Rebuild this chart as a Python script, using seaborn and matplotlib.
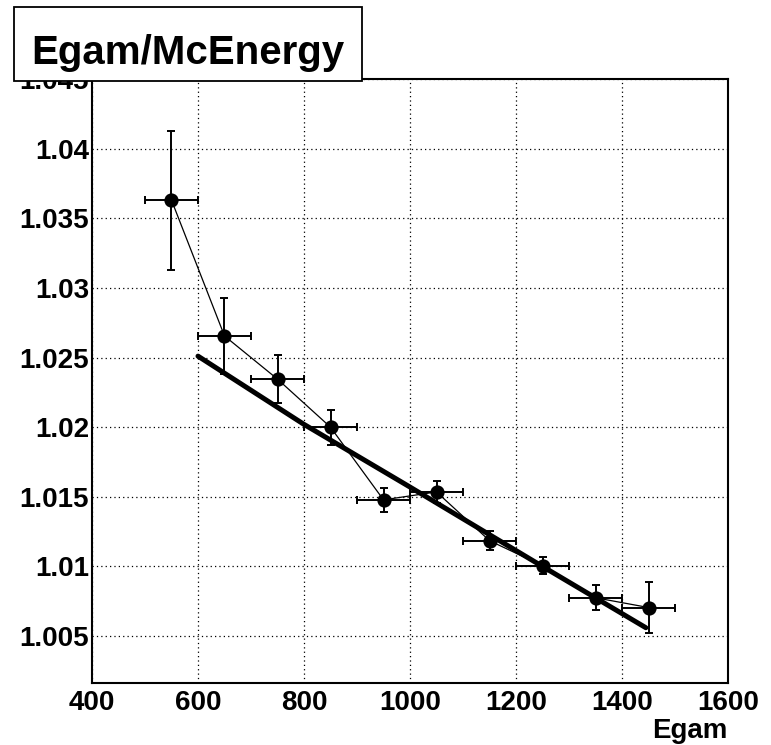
import matplotlib
matplotlib.use("Agg")
import matplotlib.pyplot as plt
from matplotlib.patches import Rectangle
from matplotlib.ticker import MultipleLocator, FixedLocator, FuncFormatter
import seaborn as sns
import pandas as pd

# ---- data ----
egam = [550, 650, 750, 850, 950, 1050, 1150, 1250, 1350, 1450]
egam_err = [50, 50, 50, 50, 50, 50, 50, 50, 50, 50]
ratio = [1.03630, 1.02655, 1.02345, 1.02000, 1.01478, 1.01535, 1.01185, 1.01005, 1.00775, 1.00705]
ratio_err = [0.0050, 0.0027, 0.0017, 0.00125, 0.00085, 0.0008, 0.0007, 0.0006, 0.0009, 0.0018]

fit_x = [600, 800, 1000, 1250, 1445]
fit_y = [1.0251, 1.0202, 1.0157, 1.0100, 1.0056]

title = "Egam/McEnergy"
xlabel = "Egam"
ytick_vals = [1.005, 1.01, 1.015, 1.02, 1.025, 1.03, 1.035, 1.04, 1.045]
ytick_labels = ["1.005", "1.01", "1.015", "1.02", "1.025", "1.03", "1.035", "1.04", "1.045"]

df = pd.DataFrame({"egam": egam, "ratio": ratio})
fit_df = pd.DataFrame({"x": fit_x, "y": fit_y})

sns.set_style("white")
plt.rcParams["font.family"] = ["Liberation Sans", "DejaVu Sans"]
plt.rcParams["font.weight"] = "bold"
plt.rcParams["text.color"] = "black"
plt.rcParams["axes.labelcolor"] = "black"

fig = plt.figure(figsize=(7.71, 7.45), dpi=100)
ax = fig.add_axes([92 / 771, 62 / 745, 636 / 771, 604 / 745])

# thin polyline through the points
sns.lineplot(data=df, x="egam", y="ratio", sort=False, color="black", lw=0.9, ax=ax, zorder=3)
# error bars
ax.errorbar(egam, ratio, xerr=egam_err, yerr=ratio_err, fmt="none", ecolor="black",
            elinewidth=1.4, capsize=3.0, capthick=1.4, zorder=4)
# markers
sns.scatterplot(data=df, x="egam", y="ratio", color="black", s=105, edgecolor="black",
                linewidth=0, ax=ax, zorder=5)
# fit line
sns.lineplot(data=fit_df, x="x", y="y", sort=False, color="black", lw=3.6, ax=ax, zorder=6)

ax.set_xlim(400, 1600)
ax.set_ylim(1.00163, 1.045)

ax.xaxis.set_major_locator(MultipleLocator(200))
ax.xaxis.set_minor_locator(MultipleLocator(50))
ax.yaxis.set_major_locator(FixedLocator(ytick_vals))
ax.yaxis.set_major_formatter(FuncFormatter(lambda v, p: ytick_labels[p] if p < len(ytick_labels) else ""))
ax.yaxis.set_minor_locator(MultipleLocator(0.001))

ax.tick_params(axis="both", which="major", direction="in", length=14, width=1.3,
               labelsize=20, colors="black", pad=3)
ax.tick_params(axis="both", which="minor", direction="in", length=7, width=1.3)
ax.tick_params(axis="y", which="both", pad=2)
ax.tick_params(axis="x", which="major", pad=5)
for lab in ax.get_xticklabels() + ax.get_yticklabels():
    lab.set_fontweight("bold")

ax.grid(True, which="major", color="black", linestyle=(0, (1, 2.5)), linewidth=0.9)
for s in ax.spines.values():
    s.set_visible(True)
    s.set_color("black")
    s.set_linewidth(1.5)

ax.set_xlabel(xlabel, loc="right", fontsize=20, fontweight="bold", color="black")
ax.xaxis.set_label_coords(1.0, -0.058)
ax.set_ylabel("")

# title box
box = Rectangle((14 / 771, 1 - 81 / 745), 348 / 771, 74 / 745, transform=fig.transFigure,
                facecolor="white", edgecolor="black", linewidth=1.3, zorder=10)
fig.patches.append(box)
fig.text(188 / 771, 1 - 64 / 745, title, ha="center", va="baseline", fontsize=29,
         fontweight="bold", color="black", zorder=11)

fig.savefig("out.png", dpi=100, facecolor="white")
